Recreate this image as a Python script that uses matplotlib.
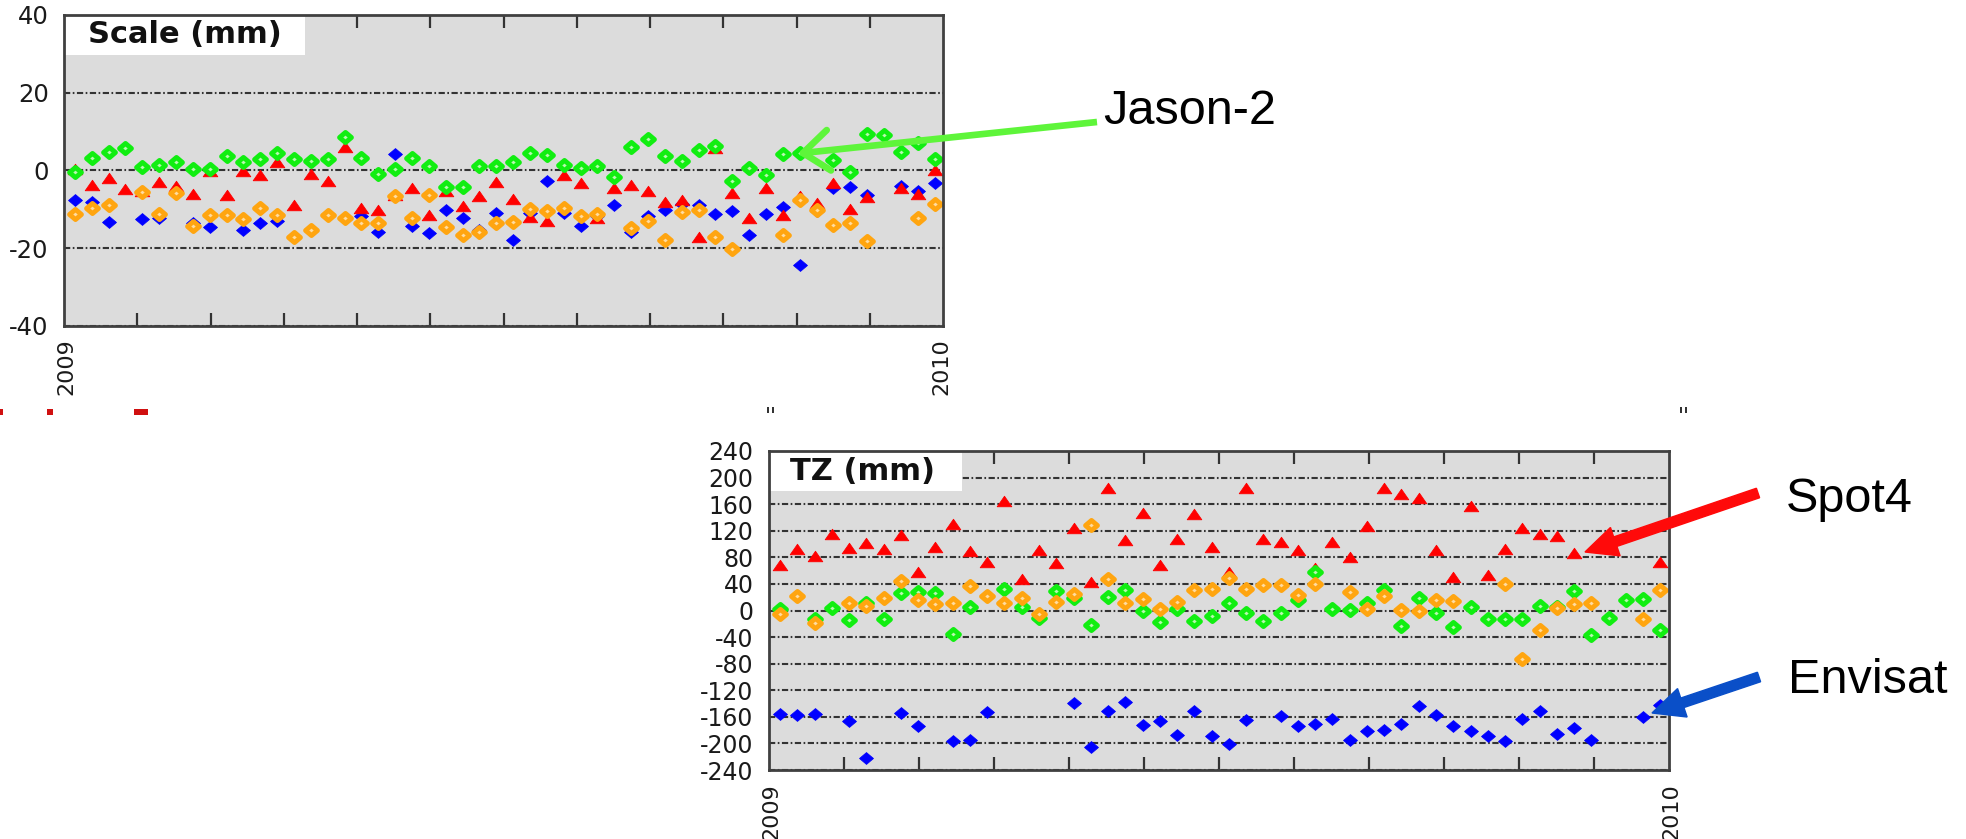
import matplotlib
matplotlib.use("Agg")
import matplotlib.pyplot as plt
import numpy as np
from matplotlib.path import Path
from matplotlib.patches import Rectangle, FancyArrow
from matplotlib.lines import Line2D
from matplotlib.transforms import Affine2D

plt.rcParams["axes.unicode_minus"] = False
plt.rcParams["font.family"] = ["DejaVu Sans"]

N = None
# ---------------- data ----------------
days = [4.5, 11.5, 18.5, 25.5, 32.5, 39.5, 46.5, 53.5, 60.5, 67.5, 74.5, 81.5, 88.5,
        95.5, 102.5, 109.5, 116.5, 123.5, 130.5, 137.5, 144.5, 151.5, 158.5, 165.5,
        172.5, 179.5, 186.5, 193.5, 200.5, 207.5, 214.5, 221.5, 228.5, 235.5, 242.5,
        249.5, 256.5, 263.5, 270.5, 277.5, 284.5, 291.5, 298.5, 305.5, 312.5, 319.5,
        326.5, 333.5, 340.5, 347.5, 354.5, 361.5]

scale_envisat = [-7.7, -8.1, -13.2, N, -12.6, -12.2, N, -13.5, -14.5, N, -15.4, -13.5, -13.1,
                 N, N, N, N, -11.7, -15.9, 4.2, -14.2, -16.2, -10.2, -12.1, -15.3, -10.9,
                 -18.0, -11.0, -2.6, -11.0, -14.4, -11.7, -8.9, -15.7, -11.7, -10.1, -8.6,
                 -8.8, -11.2, -10.5, -16.5, -11.2, -9.4, -24.4, -10.5, -4.5, -4.3, -6.4, N,
                 -3.9, -5.2, -3.2]
scale_spot4 = [0.5, -3.7, -2.0, -4.7, -5.2, -3.0, -4.1, -6.0, -0.1, -6.2, -0.1, -1.1, 2.1,
               -8.8, -0.9, -2.6, 6.0, -9.7, -10.2, -6.3, -4.4, -11.5, -5.3, -9.1, -6.5, -2.9,
               -7.4, -11.9, -13.0, -1.2, -3.3, -12.3, -4.6, -3.8, -5.3, -8.1, -7.7, -17.2,
               5.9, -5.8, -12.2, -4.5, -11.4, -6.5, -8.4, -3.2, -9.8, -6.9, N, -4.4, -6.0, 0.0]
scale_jason2 = [-0.5, 3.3, 4.7, 5.7, 0.9, 1.3, 2.3, 0.4, 0.4, 3.8, 2.1, 3.0, 4.4, 2.9, 2.5,
                2.9, 8.5, 3.2, -1.0, 0.3, 3.3, 1.2, -4.2, -4.2, 1.1, 1.1, 2.2, 4.4, 3.9, 1.4,
                0.7, 1.2, -1.6, 6.1, 8.2, 3.8, 2.5, 5.3, 6.2, -2.8, 0.6, -1.1, 4.2, 4.6, N,
                2.7, -0.3, 9.4, 9.1, 4.7, 7.0, 3.0]
scale_orange = [-11.1, -9.7, -8.8, N, -5.6, -11.2, -5.8, -14.4, -11.4, -11.5, -12.4, -9.7,
                -11.4, -17.2, -15.4, -11.5, -12.2, -13.6, -13.6, -6.5, -12.3, -6.3, -14.6,
                -16.6, -15.9, -13.6, -13.2, -10.0, -10.4, -9.6, -11.7, -11.3, N, -14.9, -13.0,
                -18.0, -10.8, -10.1, -17.1, -20.1, N, N, -16.7, -7.5, -10.1, -13.9, -13.5,
                -18.2, N, N, -12.2, -8.6]

tz_envisat = [-155.5, -157.5, -155.5, N, -166.6, -221.8, N, -154.0, -173.1, N, -196.7, -194.2,
              -153.0, N, N, N, N, -139.0, -205.7, -150.5, -137.5, -171.6, -165.6, -187.7,
              -151.5, -189.2, -200.2, -164.1, N, -159.1, -174.1, -170.6, -163.1, -195.2,
              -180.6, -180.1, -170.6, -144.0, -156.5, -174.1, -181.6, -188.2, -195.7, -162.6,
              -150.5, -185.1, -176.6, -195.2, N, N, -160.0, -141.5]
tz_spot4 = [69.2, 92.8, 81.8, 114.4, 94.3, 101.9, 91.8, 112.9, 58.2, 95.8, 130.5, 89.3, 72.8,
            164.6, 46.7, 90.3, 71.8, 124.4, 43.2, 183.6, 105.4, 146.0, 68.2, 106.9, 144.5, 95.8,
            57.7, 183.6, 106.9, 102.9, 90.3, 64.2, 103.4, 80.3, 126.9, 184.6, 175.6, 169.6,
            90.8, 50.7, 157.1, 52.7, 91.8, 123.4, 115.4, 111.9, 85.8, N, N, N, N, 72.7]
tz_jason2 = [2.5, N, -13.5, 4.0, -14.6, 11.5, -12.5, 26.6, 27.6, 26.6, -36.1, 5.0, N, 32.6, 5.5,
             -11.0, 29.1, 19.1, -21.1, 20.6, 30.1, 0.0, -17.1, 2.5, -15.1, -8.5, 11.5, -3.5,
             -15.1, -3.5, 15.6, 58.2, 3.0, 0.5, 11.5, 30.6, -23.6, 19.1, -4.5, -24.6, 5.5,
             -13.5, -13.5, -13.5, 6.5, 5.5, 29.1, -37.1, -12.0, 15.5, 17.5, -28.6]
tz_orange = [-5.0, 21.6, -18.6, N, 11.5, 7.5, 19.1, 44.2, 15.1, 10.0, 11.5, 36.6, 21.6, 11.5,
             19.1, -5.0, 13.0, 24.1, 128.4, 47.7, 11.5, 16.6, 3.0, 12.5, 30.1, 32.6, 49.2, 31.6,
             39.1, 39.1, 22.6, 40.1, N, 28.1, 3.0, 21.6, 1.5, -1.0, 15.6, 14.0, N, N, 40.1,
             -72.3, -29.6, 4.0, 10.5, 11.5, N, N, -12.6, 30.1]

scale_yticks = [-40, -20, 0, 20, 40]
tz_yticks = [-240, -200, -160, -120, -80, -40, 0, 40, 80, 120, 160, 200, 240]
year_labels = ["2009", "2010"]

# ---------------- figure ----------------
W, H = 1966, 839
fig = plt.figure(figsize=(W / 100, H / 100), dpi=100)
fig.patch.set_facecolor("white")
pix = Affine2D().scale(1, -1).translate(0, H).scale(1.0 / W, 1.0 / H) + fig.transFigure

diamond = Path([(-1, 0), (0, 0.85), (1, 0), (0, -0.85), (-1, 0)],
               [Path.MOVETO, Path.LINETO, Path.LINETO, Path.LINETO, Path.CLOSEPOLY])
tri = Path([(-1, -0.72), (1, -0.72), (0, 0.72), (-1, -0.72)],
           [Path.MOVETO, Path.LINETO, Path.LINETO, Path.CLOSEPOLY])

GRID_LS = (0, (3.0, 1.2, 0.8, 1.2))


def make_axes(x0, y0, x1, y1):
    return fig.add_axes([x0 / W, 1 - y1 / H, (x1 - x0) / W, (y1 - y0) / H])


def style(ax, yticks, ylabsize, title, box_w, box_h, title_x):
    ax.set_facecolor("#dcdcdc")
    ax.set_xlim(0, 365)
    ax.set_ylim(yticks[0], yticks[-1])
    ax.set_yticks(yticks)
    ax.set_yticklabels([str(v) for v in yticks])
    ax.set_xticks([365 / 12 * m for m in range(1, 12)])
    ax.tick_params(axis="x", which="both", top=True, bottom=True, direction="in",
                   length=9.5, width=1.6, color="#333333", labelbottom=False)
    ax.tick_params(axis="y", length=0, pad=11, labelsize=ylabsize, labelcolor="#1a1a1a")
    ax.set_axisbelow(True)
    ax.yaxis.grid(True, color="#333333", lw=1.5, linestyle=GRID_LS)
    for sp in ax.spines.values():
        sp.set_color("#404040")
        sp.set_linewidth(2.0)
        sp.set_zorder(8)
    ax.add_patch(Rectangle((0, 1 - box_h), box_w, box_h, transform=ax.transAxes,
                           facecolor="white", edgecolor="none", zorder=1.2))
    ax.text(title_x, 1 - box_h / 2, title, transform=ax.transAxes, fontsize=22,
            fontweight="bold", va="center", ha="left", color="#111111", zorder=9)


def scatter_set(ax, envisat, spot4, jason2, orange):
    x = np.array(days, dtype=float)
    ax.plot(x, np.array(envisat, dtype=float), ls="none", marker=diamond, ms=10.0,
            mfc="#0000ff", mec="#0000ff", mew=0.6, zorder=3)
    ax.plot(x, np.array(spot4, dtype=float), ls="none", marker=tri, ms=10.5,
            mfc="#ff0000", mec="#ff0000", mew=0.6, zorder=4)
    ax.plot(x, np.array(jason2, dtype=float), ls="none", marker=diamond, ms=8.6,
            mfc="#b8f8b0", mec="#11ee11", mew=3.5, zorder=5)
    ax.plot(x, np.array(orange, dtype=float), ls="none", marker=diamond, ms=8.6,
            mfc="#ffdca0", mec="#ffa510", mew=3.5, zorder=6)


# top: Scale
ax1 = make_axes(64, 15, 943, 326)
style(ax1, scale_yticks, 17.5, "Scale (mm)", 241 / 879, 40 / 311, 24 / 879)
scatter_set(ax1, scale_envisat, scale_spot4, scale_jason2, scale_orange)

# bottom: TZ
ax2 = make_axes(769, 451, 1669, 770)
style(ax2, tz_yticks, 17, "TZ (mm)", 193 / 900, 40 / 319, 21 / 900)
scatter_set(ax2, tz_envisat, tz_spot4, tz_jason2, tz_orange)

# year labels (rotated)
for (xc, yt), lab in zip([(66, 338), (941, 338)], year_labels):
    fig.text(xc / W, 1 - yt / H, lab, rotation=90, ha="center", va="top",
             fontsize=16, color="#1a1a1a")
for (xc, yt), lab in zip([(771, 783), (1671, 783)], year_labels):
    fig.text(xc / W, 1 - yt / H, lab, rotation=90, ha="center", va="top",
             fontsize=16, color="#1a1a1a")

# small cut-off fragments of slide text between the two panels
for (fx, fy, fw, fh, fc) in [(0, 409, 3, 6, "#d01010"), (47, 409, 6, 6, "#d01010"),
                             (134, 409, 14, 6, "#d01010"),
                             (767, 407, 2, 6, "#333333"), (772, 407, 2, 6, "#333333"),
                             (1680, 407, 2, 6, "#333333"), (1685, 407, 2, 6, "#333333")]:
    fig.add_artist(Rectangle((fx, fy), fw, fh, transform=pix, facecolor=fc,
                             edgecolor="none", zorder=20))


# ---------------- annotations ----------------
def solid_arrow(tail, tip, color, width, head_w, head_l):
    dx, dy = tip[0] - tail[0], tip[1] - tail[1]
    a = FancyArrow(tail[0], tail[1], dx, dy, width=width, head_width=head_w,
                   head_length=head_l, length_includes_head=True, color=color,
                   transform=pix, zorder=20)
    a.set_clip_on(False)
    fig.add_artist(a)


def chevron_arrow(tail, tip, color, lw, arm, ang):
    fig.add_artist(Line2D([tail[0], tip[0]], [tail[1], tip[1]], color=color, lw=lw,
                          transform=pix, solid_capstyle="butt", zorder=20))
    d = np.array([tail[0] - tip[0], tail[1] - tip[1]], dtype=float)
    d /= np.hypot(*d)
    for s in (1, -1):
        c, sn = np.cos(s * ang), np.sin(s * ang)
        r = np.array([c * d[0] - sn * d[1], sn * d[0] + c * d[1]])
        fig.add_artist(Line2D([tip[0], tip[0] + arm * r[0]], [tip[1], tip[1] + arm * r[1]],
                              color=color, lw=lw, transform=pix,
                              solid_capstyle="round", zorder=20))


chevron_arrow((1097, 122), (803, 153), "#5ef53a", 4.8, 33, np.radians(38))
solid_arrow((1758, 493), (1585, 552), "#ff0a0a", 10, 30, 32)
solid_arrow((1759, 677), (1652, 713), "#0a4fc8", 10, 30, 32)

for txt, x, y in [("Jason-2", 1103, 124), ("Spot4", 1786, 512), ("Envisat", 1788, 693)]:
    fig.text(x / W, 1 - y / H, txt, fontsize=35, family=["Liberation Sans", "DejaVu Sans"],
             ha="left", va="baseline", color="black")

fig.savefig("out.png", dpi=100, facecolor="white")
